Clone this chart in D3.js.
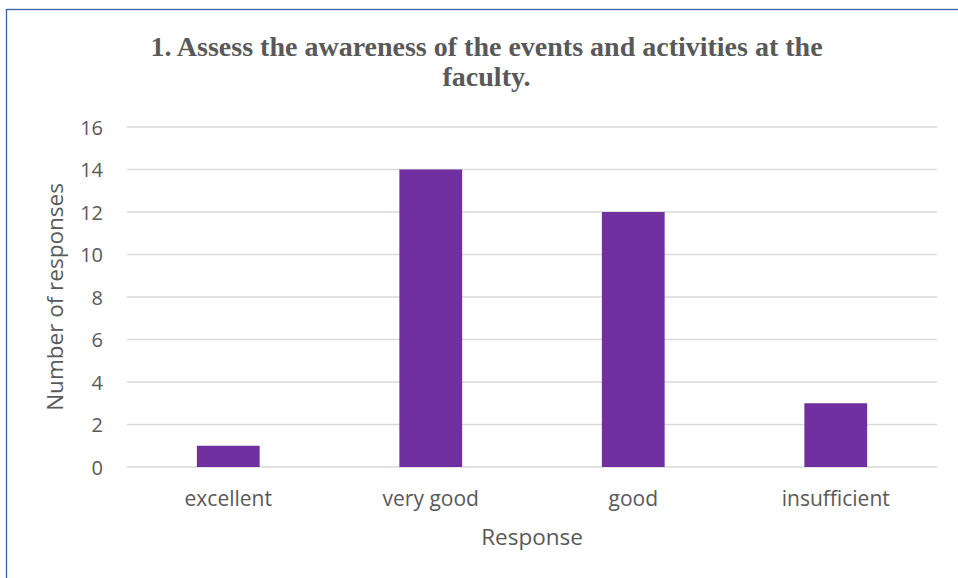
<!DOCTYPE html>
<html><head><meta charset="utf-8">
<script src="https://cdn.jsdelivr.net/npm/d3@7"></script>
<style>body{margin:0;background:#fff}svg{display:block}</style>
</head><body><svg id="c" width="958" height="578"></svg>
<script>
const categories = ["excellent", "very good", "good", "insufficient"];
const values = [1, 14, 12, 3];
const yTicks = [0, 2, 4, 6, 8, 10, 12, 14, 16];
const titleLines = ["1. Assess the awareness of the events and activities at the", "faculty."];
const xTitle = "Response";
const yTitle = "Number of responses";

const svg = d3.select("#c");
svg.append("rect").attr("x", 6.5).attr("y", 9.5).attr("width", 1000).attr("height", 1000)
  .attr("fill", "#fff").attr("stroke", "#3A5DA6").attr("stroke-width", 1.3);

const m = {left: 127, right: 937, top: 127, bottom: 467};
const x = d3.scaleBand().domain(categories).range([m.left, m.right]).paddingInner(0.69).paddingOuter(0.345);
const y = d3.scaleLinear().domain([0, 16]).range([m.bottom, m.top]);

const g = svg.append("g");
g.selectAll("line.grid").data(yTicks).join("line")
  .attr("x1", m.left).attr("x2", m.right)
  .attr("y1", d => y(d)).attr("y2", d => y(d))
  .attr("stroke", "#d9d9d9").attr("stroke-width", 1.3);

g.selectAll("rect.bar").data(values).join("rect")
  .attr("x", (d, i) => x(categories[i])).attr("width", x.bandwidth())
  .attr("y", d => y(d)).attr("height", d => y(0) - y(d))
  .attr("fill", "#7030A0");

const font = "'Open Sans', 'Noto Sans', sans-serif";
const yAxis = d3.axisLeft(y).tickValues(yTicks).tickSize(0).tickPadding(0);
const ya = svg.append("g").attr("transform", `translate(103,0)`).call(yAxis);
ya.select(".domain").remove();
ya.selectAll("text").attr("fill", "#595959").attr("dy", "0.36em").style("font-family", font).style("font-size", "20px");

const xAxis = d3.axisBottom(x).tickSize(0).tickPadding(0);
const xa = svg.append("g").attr("transform", `translate(0,506)`).call(xAxis);
xa.select(".domain").remove();
xa.selectAll("text").attr("y", 0).attr("dy", 0).attr("fill", "#595959").style("font-family", font).style("font-size", "21px");

svg.append("text").attr("x", 532).attr("y", 545).attr("text-anchor", "middle")
  .attr("fill", "#595959").style("font-family", font).style("font-size", "22.5px").text(xTitle);
svg.append("text").attr("transform", "translate(63,297) rotate(-90)").attr("text-anchor", "middle")
  .attr("fill", "#595959").style("font-family", font).style("font-size", "22.5px").text(yTitle);

svg.selectAll("text.title").data(titleLines).join("text")
  .attr("x", 486.5).attr("y", (d, i) => 56 + i * 30).attr("text-anchor", "middle")
  .attr("fill", "#595959").style("font-family", "'Liberation Serif', 'Times New Roman', serif")
  .style("font-weight", "bold").style("font-size", "28px").text(d => d);
</script></body></html>
